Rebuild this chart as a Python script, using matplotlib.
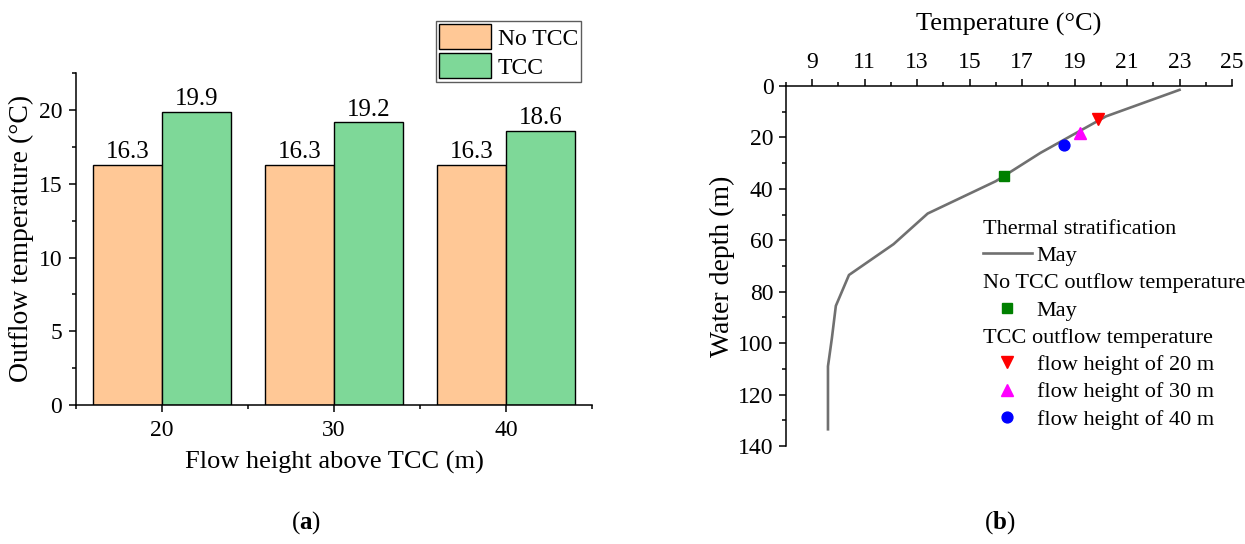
"""Outflow temperature bars (a) and May thermal stratification profile (b)."""

import matplotlib

matplotlib.use("Agg")
import matplotlib.pyplot as plt
from matplotlib.lines import Line2D
from matplotlib.ticker import MultipleLocator

plt.rcParams["font.family"] = ["Liberation Serif", "DejaVu Serif"]
plt.rcParams["mathtext.fontset"] = "custom"
plt.rcParams["mathtext.rm"] = "Liberation Serif"
plt.rcParams["mathtext.bf"] = "Liberation Serif:bold"

# (a) outflow temperature per flow height
heights = [20, 30, 40]
no_tcc = [16.3, 16.3, 16.3]
tcc = [19.9, 19.2, 18.6]

# (b) May thermal stratification profile
profile_temp = [23.0, 20.2, 17.7, 16.0, 13.4, 12.1, 10.4, 9.9, 9.75, 9.6, 9.6]
profile_depth = [1.5, 11.8, 26.0, 37.0, 49.6, 61.5, 73.5, 85.5, 98.0, 109.0, 133.5]
no_tcc_point = (16.3, 35.0)
tcc_points = {
    "flow height of 20 m": (19.9, 13.0),
    "flow height of 30 m": (19.2, 18.3),
    "flow height of 40 m": (18.6, 23.0),
}
tcc_styles = {
    "flow height of 20 m": ("v", "#ff0000", 9.2),
    "flow height of 30 m": ("^", "#ff00ff", 9.2),
    "flow height of 40 m": ("o", "#0000ff", 7.8),
}

W, H = 1245, 544
fig = plt.figure(figsize=(W / 100, H / 100), dpi=100)


def style_axis(ax):
    for side in ("top", "right", "bottom", "left"):
        ax.spines[side].set_linewidth(1.1)
    ax.tick_params(which="major", length=5, width=1.1, direction="out",
                   labelsize=17, pad=5)
    ax.tick_params(which="minor", length=3, width=1.1, direction="out")


# ---- panel (a)
ax1 = fig.add_axes([76 / W, 1 - 405 / H, (592 - 76) / W, (405 - 72.5) / H])
bw = 4.0
xs = list(heights)
b1 = ax1.bar([x - bw / 2 for x in xs], no_tcc, width=bw, color="#ffc896",
             edgecolor="black", linewidth=1, label="No TCC")
b2 = ax1.bar([x + bw / 2 for x in xs], tcc, width=bw, color="#7ed898",
             edgecolor="black", linewidth=1, label="TCC")
ax1.bar_label(b1, fmt="%.1f", padding=1, fontsize=18)
ax1.bar_label(b2, fmt="%.1f", padding=1, fontsize=18)
ax1.set_xlim(15, 45)
ax1.set_ylim(0, 22.55)
ax1.set_xticks(heights)
ax1.xaxis.set_minor_locator(MultipleLocator(5))
ax1.yaxis.set_major_locator(MultipleLocator(5))
ax1.yaxis.set_minor_locator(MultipleLocator(2.5))
ax1.spines["top"].set_visible(False)
ax1.spines["right"].set_visible(False)
style_axis(ax1)
ax1.tick_params(axis="x", pad=6)
ax1.set_xlabel("Flow height above TCC (m)", fontsize=19, labelpad=7)
ax1.set_ylabel("Outflow temperature (\u00b0C)", fontsize=20, labelpad=3)
leg1 = ax1.legend(loc="upper right", bbox_to_anchor=(0.979, 1.155), fontsize=17,
                  frameon=True, fancybox=False, edgecolor="#333333",
                  handlelength=2.22, handleheight=1.25, handletextpad=0.27,
                  labelspacing=0.15, borderpad=0.14, borderaxespad=0)
leg1.get_frame().set_linewidth(1.0)

# ---- panel (b)
ax2 = fig.add_axes([786 / W, 1 - 446 / H, (1232 - 786) / W, (446 - 86) / H])
line, = ax2.plot(profile_temp, profile_depth, color="#707070", linewidth=1.9)
sq, = ax2.plot([no_tcc_point[0]], [no_tcc_point[1]], linestyle="none",
               marker="s", markersize=6.8, color="#008000")
handles_tcc = []
for name, (t, d) in tcc_points.items():
    mk, col, ms = tcc_styles[name]
    h, = ax2.plot([t], [d], linestyle="none", marker=mk, markersize=ms, color=col)
    handles_tcc.append(h)

ax2.set_xlim(8, 25)
ax2.set_ylim(140, 0)
ax2.set_xticks(range(9, 26, 2))
ax2.xaxis.set_minor_locator(MultipleLocator(1))
ax2.yaxis.set_major_locator(MultipleLocator(20))
ax2.yaxis.set_minor_locator(MultipleLocator(10))
ax2.xaxis.tick_top()
ax2.xaxis.set_label_position("top")
ax2.spines["bottom"].set_visible(False)
ax2.spines["right"].set_visible(False)
style_axis(ax2)
ax2.tick_params(axis="x", pad=4)
ax2.tick_params(axis="y", pad=4)
ax2.set_xlabel("Temperature (\u00b0C)", fontsize=19, labelpad=16)
ax2.set_ylabel("Water depth (m)", fontsize=20, labelpad=2)

blank = Line2D([], [], linestyle="none")
leg_handles = [blank, line, blank, sq, blank] + handles_tcc
leg_labels = ["Thermal stratification", "May", "No TCC outflow temperature", "May",
              "TCC outflow temperature"] + list(tcc_points.keys())
headers = [True, False, True, False, True, False, False, False]
leg2 = ax2.legend(leg_handles, leg_labels, loc="upper left",
                  bbox_to_anchor=((983 - 786) / 446, 0.632), fontsize=16,
                  frameon=False, handlelength=2.2, handletextpad=0.22,
                  labelspacing=0.3, borderpad=0, borderaxespad=0, numpoints=1)
# section headers start where the handles start
column = leg2._legend_handle_box.get_children()[0]
for row, is_header in zip(column.get_children(), headers):
    if is_header:
        row.get_children()[0].width = 0
        row.sep = 0

fig.text(306 / W, 1 - 523 / H, r"($\mathbf{a}$)", fontsize=18, ha="center", va="center")
fig.text(1000 / W, 1 - 523 / H, r"($\mathbf{b}$)", fontsize=18, ha="center", va="center")

fig.savefig("out.png", dpi=100)
